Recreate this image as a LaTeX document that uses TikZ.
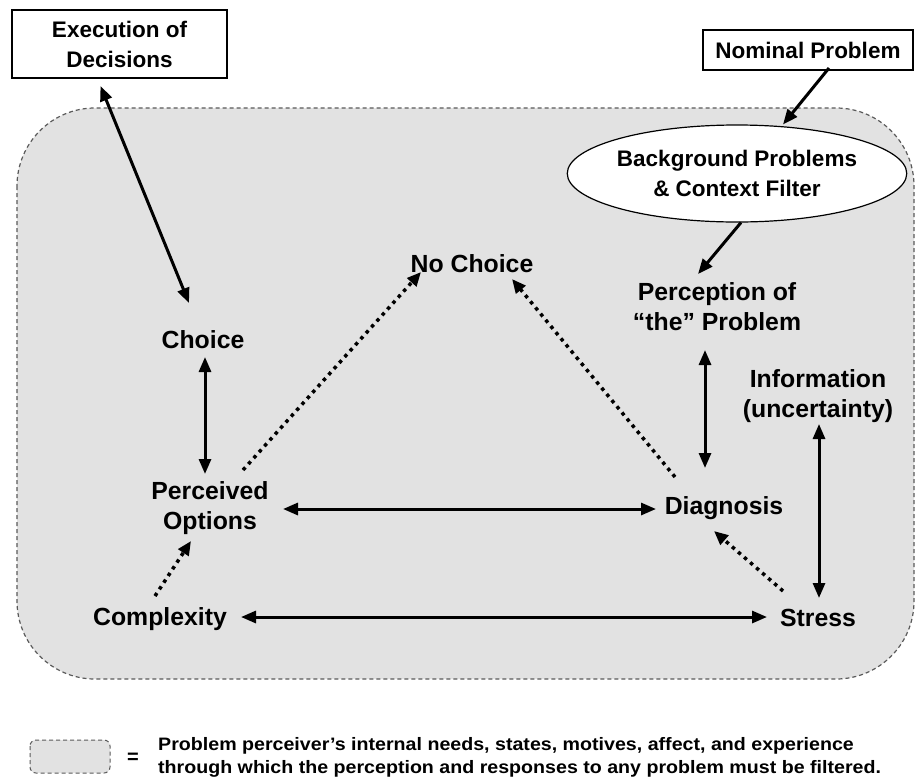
\documentclass[tikz,border=0pt]{standalone}
\usepackage{fontspec}
\setmainfont{Liberation Sans}
\usetikzlibrary{arrows.meta,calc,shapes.geometric}
\definecolor{filt}{RGB}{226,226,226}
\definecolor{filtedge}{RGB}{90,90,90}
\tikzset{
  lbl/.style={font=\bfseries\fontsize{24.8}{30}\selectfont, align=center, inner sep=0pt},
  boxnode/.style={draw=black, line width=1.8pt, fill=white, align=center, font=\bfseries\fontsize{22.5}{30}\selectfont, inner sep=0pt},
  solidarr/.style={line width=3pt, -{Triangle[length=15pt,width=12pt]}},
  dblarr/.style={line width=3pt, {Triangle[length=15pt,width=12pt]}-{Triangle[length=15pt,width=12pt]}},
  dotarr/.style={line width=3.5pt, dash pattern=on 3.5pt off 4.5pt, -{Triangle[length=14pt,width=12pt]}},
  filterarea/.style={fill=filt, draw=filtedge, line width=1.2pt, dash pattern=on 4pt off 3pt}
}
\begin{document}
\begin{tikzpicture}[x=1pt,y=-1pt]
\useasboundingbox[fill=white] (0,0) rectangle (920,782);
% filter area
\draw[filterarea, rounded corners=78pt] (17,108) rectangle (914,679);
% top boxes
\node[boxnode, minimum width=215pt, minimum height=68pt] (exec) at (119.5,44) {Execution of\\Decisions};
\node[boxnode, minimum width=210pt, minimum height=40pt] (nominal) at (808,50) {Nominal Problem};
\node[ellipse, draw=black, line width=1.2pt, fill=white, minimum width=338pt, minimum height=97pt, inner sep=0pt,
      align=center, font=\bfseries\fontsize{22.5}{30}\selectfont] (ell) at (737,173.5) {Background Problems\\\& Context Filter};
% labels
\node[lbl] (nochoice) at (472,264) {No Choice};
\node[lbl] (perc) at (717,307) {Perception of\\“the” Problem};
\node[lbl] (choice) at (203,340) {Choice};
\node[lbl] (info) at (818,396) {Information\\(uncertainty)};
\node[lbl] (po) at (210,508) {Perceived\\Options};
\node[lbl] (diag) at (724,508) {Diagnosis};
\node[lbl] (complexity) at (160,619) {Complexity};
\node[lbl] (stress) at (818,618) {Stress};
% solid connectors
\draw[dblarr] ($(exec)+(-19,42)$) -- ($(choice)+(-14,-37)$);
\draw[solidarr] ($(nominal)+(21,18)$) -- ($(ell)+(46,-49)$);
\draw[solidarr] ($(ell)+(4,49)$) -- ($(perc)+(-19,-33)$);
\draw[dblarr] ($(choice)+(2,17)$) -- ($(po)+(-5,-34)$);
\draw[dblarr] ($(perc)+(-12,43)$) -- ($(diag)+(-19,-40)$);
\draw[dblarr] ($(info)+(1,28)$) -- ($(stress)+(1,-20)$);
\draw[dblarr] ($(po)+(73,1)$) -- ($(diag)+(-68,1)$);
\draw[dblarr] ($(complexity)+(81,-2)$) -- ($(stress)+(-51,-1)$);
% dotted connectors
\draw[dotarr] ($(po)+(33,-38)$) -- ($(nochoice)+(-51,8)$);
\draw[dotarr] ($(diag)+(-49,-31)$) -- ($(nochoice)+(40,15)$);
\draw[dotarr] ($(stress)+(-35,-27)$) -- ($(diag)+(-10,23)$);
\draw[dotarr] ($(complexity)+(-5,-23)$) -- ($(po)+(-19,33)$);
% legend
\draw[filterarea, line width=1pt, rounded corners=6pt] (30,740) rectangle (110,773);
\node[font=\bfseries\fontsize{20}{20}\selectfont, inner sep=0pt] (eq) at (133,758) {=};
\node[anchor=west, align=left, inner sep=0pt, font=\bfseries\fontsize{18}{23}\selectfont] (legtext) at (158,757)
  {\scalebox{1.09}[1]{Problem perceiver’s internal needs, states, motives, affect, and experience}\\
   \scalebox{1.09}[1]{through which the perception and responses to any problem must be filtered.}};
\end{tikzpicture}
\end{document}
